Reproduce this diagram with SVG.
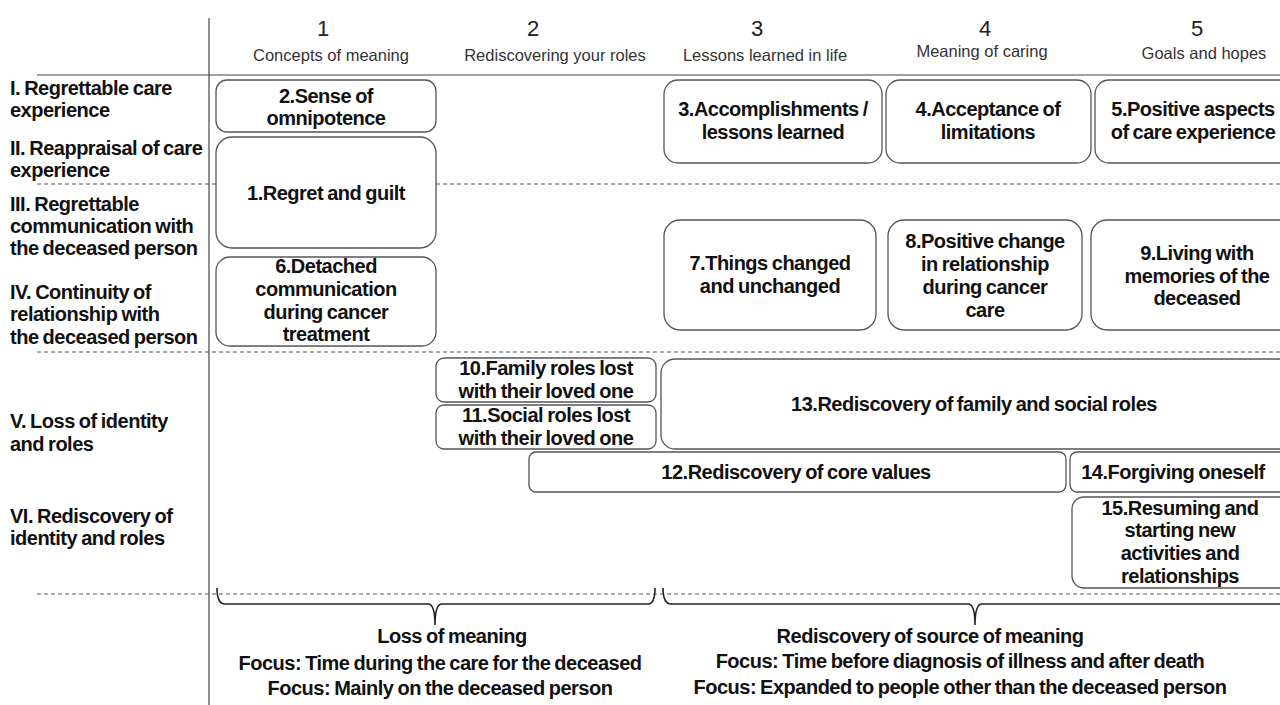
<svg xmlns="http://www.w3.org/2000/svg" width="1280" height="705" viewBox="0 0 1280 705">
<style>
.num{font-family:"Liberation Sans",Arial,sans-serif;font-size:22px;fill:#222;text-anchor:middle}
.sub{font-family:"Liberation Sans",Arial,sans-serif;font-size:16.5px;fill:#333;text-anchor:middle}
.row{font-family:"Liberation Sans",Arial,sans-serif;font-size:20px;font-weight:bold;fill:#111;letter-spacing:-0.5px;word-spacing:-1px}
.bt{font-family:"Liberation Sans",Arial,sans-serif;font-size:20px;font-weight:bold;fill:#111;text-anchor:middle;letter-spacing:-0.5px;word-spacing:-1px}
.box{fill:#fff;stroke:#555;stroke-width:1.3}
.dash{stroke:#555;stroke-width:1;stroke-dasharray:4 3;fill:none}
.solid{stroke:#444;stroke-width:1.2;fill:none}
.brace{stroke:#222;stroke-width:1.6;fill:none}
</style>
<rect width="1280" height="705" fill="#fff"/>
<g id="grid">
<line class="solid" x1="209" y1="18" x2="209" y2="705"/>
<line class="solid" x1="37" y1="75" x2="1280" y2="75"/>
<line class="dash" x1="37" y1="184" x2="1280" y2="184"/>
<line class="dash" x1="37" y1="352" x2="1280" y2="352"/>
<line class="dash" x1="37" y1="594" x2="1280" y2="594"/>
</g>
<g id="header">
<text class="num" x="323" y="36">1</text>
<text class="sub" x="331" y="61">Concepts of meaning</text>
<text class="num" x="533" y="36">2</text>
<text class="sub" x="555" y="61">Rediscovering your roles</text>
<text class="num" x="757" y="36">3</text>
<text class="sub" x="765" y="61">Lessons learned in life</text>
<text class="num" x="985" y="36">4</text>
<text class="sub" x="982" y="57">Meaning of caring</text>
<text class="num" x="1197" y="36">5</text>
<text class="sub" x="1204" y="59">Goals and hopes</text>
</g>
<g id="rows">
<text class="row" x="10" y="95">I. Regrettable care</text>
<text class="row" x="10" y="117">experience</text>
<text class="row" x="10" y="155">II. Reappraisal of care</text>
<text class="row" x="10" y="177">experience</text>
<text class="row" x="10" y="211">III. Regrettable</text>
<text class="row" x="10" y="233">communication with</text>
<text class="row" x="10" y="255">the deceased person</text>
<text class="row" x="10" y="299">IV. Continuity of</text>
<text class="row" x="10" y="321">relationship with</text>
<text class="row" x="10" y="344">the deceased person</text>
<text class="row" x="10" y="428">V. Loss of identity</text>
<text class="row" x="10" y="451">and roles</text>
<text class="row" x="10" y="523">VI. Rediscovery of</text>
<text class="row" x="10" y="545">identity and roles</text>
</g>
<g id="n2"><rect class="box" x="216" y="80" width="220" height="52" rx="11"/>
<text class="bt" x="326" y="103">2.Sense of</text><text class="bt" x="326" y="125">omnipotence</text></g>
<g id="n1"><rect class="box" x="216" y="137" width="220" height="111" rx="16"/>
<text class="bt" x="326" y="200">1.Regret and guilt</text></g>
<g id="n6"><rect class="box" x="216" y="257" width="220" height="89" rx="14"/>
<text class="bt" x="326" y="273">6.Detached</text><text class="bt" x="326" y="296">communication</text><text class="bt" x="326" y="319">during cancer</text><text class="bt" x="326" y="341">treatment</text></g>
<g id="n3"><rect class="box" x="664" y="80" width="218" height="83" rx="14"/>
<text class="bt" x="773" y="116">3.Accomplishments /</text><text class="bt" x="773" y="139">lessons learned</text></g>
<g id="n4"><rect class="box" x="886" y="80" width="205" height="83" rx="14"/>
<text class="bt" x="988" y="116">4.Acceptance of</text><text class="bt" x="988" y="139">limitations</text></g>
<g id="n5"><rect class="box" x="1095" y="80" width="200" height="83" rx="14"/>
<text class="bt" x="1193" y="116">5.Positive aspects</text><text class="bt" x="1193" y="139">of care experience</text></g>
<g id="n7"><rect class="box" x="664" y="220" width="212" height="110" rx="16"/>
<text class="bt" x="770" y="270">7.Things changed</text><text class="bt" x="770" y="293">and unchanged</text></g>
<g id="n8"><rect class="box" x="888" y="220" width="194" height="110" rx="16"/>
<text class="bt" x="985" y="248">8.Positive change</text><text class="bt" x="985" y="271">in relationship</text><text class="bt" x="985" y="294">during cancer</text><text class="bt" x="985" y="317">care</text></g>
<g id="n9"><rect class="box" x="1091" y="220" width="204" height="110" rx="16"/>
<text class="bt" x="1197" y="260">9.Living with</text><text class="bt" x="1197" y="283">memories of the</text><text class="bt" x="1197" y="305">deceased</text></g>
<g id="n10"><rect class="box" x="436" y="358" width="220" height="44" rx="8"/>
<text class="bt" x="546" y="375">10.Family roles lost</text><text class="bt" x="546" y="398">with their loved one</text></g>
<g id="n11"><rect class="box" x="436" y="405" width="220" height="44" rx="8"/>
<text class="bt" x="546" y="422">11.Social roles lost</text><text class="bt" x="546" y="445">with their loved one</text></g>
<g id="n13"><rect class="box" x="661" y="359" width="634" height="90" rx="14"/>
<text class="bt" x="974" y="411">13.Rediscovery of family and social roles</text></g>
<g id="n12"><rect class="box" x="529" y="452" width="537" height="40" rx="7"/>
<text class="bt" x="796" y="479">12.Rediscovery of core values</text></g>
<g id="n14"><rect class="box" x="1070" y="452" width="225" height="40" rx="7"/>
<text class="bt" x="1173" y="479">14.Forgiving oneself</text></g>
<g id="n15"><rect class="box" x="1072" y="497" width="223" height="91" rx="12"/>
<text class="bt" x="1180" y="515">15.Resuming and</text><text class="bt" x="1180" y="537">starting new</text><text class="bt" x="1180" y="560">activities and</text><text class="bt" x="1180" y="583">relationships</text></g>
<g id="connectors">
<path class="brace" d="M217,588 Q217,604 225,604 L428,604 Q435,604 435,625 Q435,604 442,604 L648,604 Q655,604 655,588"/>
<path class="brace" d="M663,588 Q663,604 671,604 L968,604 Q975,604 975,625 Q975,604 982,604 L1280,604"/>
</g>
<g id="captions">
<text class="bt" x="452" y="643">Loss of meaning</text>
<text class="bt" x="440" y="670">Focus: Time during the care for the deceased</text>
<text class="bt" x="440" y="695">Focus: Mainly on the deceased person</text>
<text class="bt" x="930" y="643">Rediscovery of source of meaning</text>
<text class="bt" x="960" y="668">Focus: Time before diagnosis of illness and after death</text>
<text class="bt" x="960" y="694">Focus: Expanded to people other than the deceased person</text>
</g>
</svg>
